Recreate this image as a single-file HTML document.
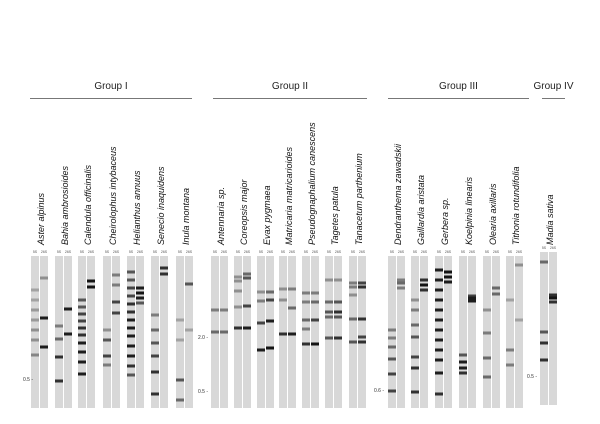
<!DOCTYPE html>
<html><head><meta charset="utf-8"><style>
html,body{margin:0;padding:0;background:#fff;}
#c{position:relative;width:600px;height:424px;overflow:hidden;font-family:"Liberation Sans",sans-serif;}
</style></head><body>
<div id="c">
<svg id="s" width="600" height="424" xmlns="http://www.w3.org/2000/svg"></svg>
</div>
<script>
// species: name, left lane x (5S), group
const species=["Aster alpinus","Bahia ambrosioides","Calendula officinalis","Cheirolophus intybaceus","Helianthus annuus","Senecio inaquidens","Inula montana","Antennaria sp.","Coreopsis major","Evax pygmaea","Matricaria matricarioides","Pseudognaphalium canescens","Tagetes patula","Tanacetum parthenium","Dendranthema zawadskii","Gaillardia aristata","Gerbera sp.","Koelpinia linearis","Olearia axillaris","Tithonia rotundifolia","Madia sativa"];
const laneX=[31,55,78,103,127,151,176,211,234,257,279,302,325,349,388,411,435,459,483,506,540];
const groups=["Group I","Group II","Group III","Group IV"];
const groupSpan=[[30,192],[213,367],[388,529],[542,565]];
// bands: [y position in px on gel, intensity 0-1]
const bands5S=[
[[290,.2],[300,.2],[310,.25],[320,.25],[330,.3],[340,.3],[355,.35]],
[[326,.4],[339,.5],[357,.8],[381,.8]],
[[300,.6],[307,.6],[314,.7],[321,.7],[328,.8],[335,.8],[343,.9],[352,.9],[362,.9],[374,.9]],
[[330,.3],[340,.6],[356,.7],[365,.4]],
[[272,.6],[280,.6],[288,.7],[296,.7],[304,.8],[312,.8],[320,.9],[328,.9],[336,.9],[346,.9],[356,.9],[366,.8],[375,.6]],
[[315,.4],[330,.5],[343,.6],[356,.7],[372,.8],[394,.8]],
[[320,.2],[340,.2],[380,.6],[400,.5]],
[[310,.4],[332,.5]],
[[277,.3],[281,.3],[291,.3],[307,.3],[328,.8]],
[[292,.3],[301,.4],[323,.7],[350,.9]],
[[289,.3],[300,.3],[334,.8]],
[[293,.4],[302,.4],[320,.5],[329,.4],[344,.8]],
[[280,.3],[302,.5],[312,.6],[317,.5],[338,.6]],
[[283,.4],[287,.4],[295,.3],[319,.5],[342,.6]],
[[330,.4],[338,.4],[347,.5],[359,.6],[374,.7],[391,.7]],
[[300,.3],[310,.4],[325,.5],[337,.6],[357,.7],[368,.8],[392,.8]],
[[270,.9],[280,.9],[290,.9],[300,.9],[310,.9],[320,.9],[330,.9],[340,.9],[350,.9],[360,.9],[373,.9],[394,.8]],
[[355,.6],[362,.9],[368,.9],[373,.8]],
[[310,.3],[333,.4],[358,.5],[377,.5]],
[[300,.2],[350,.4],[365,.4]],
[[262,.5],[332,.6],[343,.8],[360,.8]]
];
const bands26S=[
[[278,.3],[318,.9],[347,.9]],
[[309,.9],[334,.9]],
[[281,.95],[287,.95]],
[[275,.4],[285,.4],[302,.7],[313,.7]],
[[288,.9],[293,.95],[298,.9],[303,.6]],
[[268,.8],[274,.8]],
[[284,.6],[330,.2]],
[[310,.4],[332,.5]],
[[274,.5],[278,.6],[306,.7],[328,.9]],
[[292,.5],[300,.7],[321,.9],[348,.95]],
[[289,.4],[308,.5],[334,.9]],
[[293,.4],[302,.5],[320,.7],[344,.95]],
[[280,.3],[302,.6],[312,.8],[317,.6],[338,.8]],
[[283,.7],[287,.8],[319,.8],[337,.7],[342,.8]],
[[280,.4],[283,.5],[288,.4]],
[[280,.8],[285,.95],[290,.8]],
[[272,.95],[277,.95],[282,.9]],
[[296,.7],[298,.9],[301,.9]],
[[288,.5],[294,.5]],
[[265,.3],[320,.2]],
[[295,.8],[298,.95],[302,.8]]
];
const markers=[["0.5",33,379],["2.0",208,337],["0.5",208,391],["0.6",384,390],["0.5",537,376]];

const NS="http://www.w3.org/2000/svg";
const svg=document.getElementById('s');
function mk(t,a){const e=document.createElementNS(NS,t);for(const k in a)e.setAttribute(k,a[k]);svg.appendChild(e);return e;}

groups.forEach((g,i)=>{
  const [a,b]=groupSpan[i];
  const l=mk('line',{x1:a,x2:b,y1:98.5,y2:98.5,stroke:'#777','stroke-width':1});
  
  
  const t=mk('text',{x:(a+b)/2,y:89,'font-size':10,'text-anchor':'middle',fill:'#222'});
  t.textContent=g;
  
  
});

species.forEach((sp,i)=>{
  const x=laneX[i];
  const top=i===20?252:256, bot=i===20?405:408;
  const cx=x+13;
  const t=mk('text',{x:0,y:0,'font-size':9,'font-style':'italic',fill:'#111',transform:`translate(${cx},245) rotate(-90)`});
  t.textContent=sp;
  
  
  const l1=mk('text',{x:x+4,y:top-3,'font-size':3.5,'text-anchor':'middle',fill:'#555'});l1.textContent='5S';
  
  
  const l2=mk('text',{x:x+13,y:top-3,'font-size':3.5,'text-anchor':'middle',fill:'#555'});l2.textContent='26S';
  
  
  [[x,bands5S[i]],[x+9,bands26S[i]]].forEach(([lx,bs],j)=>{
    const r=mk('rect',{x:lx,y:top,width:8,height:bot-top,fill:'#d8d8d8'});
    
    
    bs.forEach(([y,v])=>{
      const g=Math.round(200-v*190);
      const b=mk('rect',{x:lx,y:y-1.5,width:8,height:3,fill:`rgb(${g},${g},${g})`});
      
      
    });
  });
});

markers.forEach(([lab,x,y])=>{
  const t=mk('text',{x:x,y:y+2,'font-size':5,'text-anchor':'end',fill:'#333'});
  t.textContent=lab+' -';
  
  
});
</script>
</body></html>
